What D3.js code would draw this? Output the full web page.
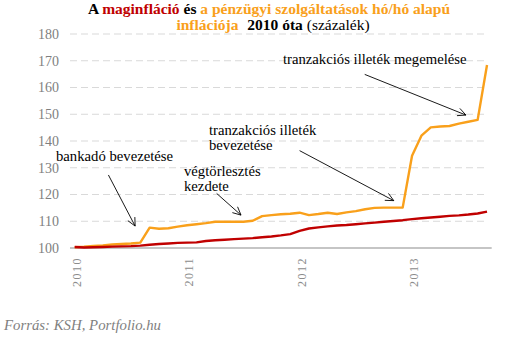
<!DOCTYPE html>
<html>
<head>
<meta charset="utf-8">
<script src="https://cdn.jsdelivr.net/npm/d3@7"></script>
<style>
  html, body { margin: 0; padding: 0; background: #fff; }
  svg { display: block; }
  text { font-family: "Liberation Serif", "DejaVu Serif", serif; }
</style>
</head>
<body>
<svg id="chart" width="530" height="341"></svg>
<script>
// Monthly index values, January 2010 = 100
const months = d3.range(45).map(i => new Date(2010, i, 1));

const coreInflation = [
  100.4, 100.2, 100.3, 100.4, 100.5, 100.6, 100.7, 100.9, 101.2, 101.5, 101.7, 101.9,
  102.0, 102.1, 102.6, 102.9, 103.1, 103.3, 103.5, 103.7, 104.0, 104.3, 104.7, 105.2,
  106.4, 107.3, 107.7, 108.1, 108.4, 108.6, 108.9, 109.2, 109.5, 109.8, 110.1, 110.4,
  110.8, 111.1, 111.4, 111.7, 112.0, 112.2, 112.5, 112.9, 113.6
];

const financialServices = [
  100.3, 100.5, 100.8, 101.0, 101.3, 101.5, 101.7, 102.0, 107.6, 107.2, 107.4, 108.0,
  108.5, 108.9, 109.3, 109.8, 109.8, 109.8, 109.8, 110.2, 111.9, 112.3, 112.6, 112.8,
  113.2, 112.3, 112.7, 113.2, 112.7, 113.3, 113.8, 114.5, 115.0, 115.1, 115.1, 115.1,
  134.5, 142.0, 145.1, 145.4, 145.6, 146.5, 147.2, 147.9, 168.4
];

const yTicks = [100, 110, 120, 130, 140, 150, 160, 170, 180];
const yearLabels = ["2010", "2011", "2012", "2013"];

// Event annotations: text lines, arrow tail and tip in (month index, value)
const annotations = [
  { lines: ["bankadó bevezetése"], tx: 56, ty: 161, tail: [3.6, 127.3], tip: [6.45, 108.2] },
  { lines: ["végtörlesztés", "kezdete"], tx: 184, ty: 176, tail: [15.15, 120.4], tip: [17.75, 112.3] },
  { lines: ["tranzakciós illeték", "bevezetése"], tx: 209, ty: 135, tail: [24.0, 136.4], tip: [34.05, 117.7] },
  { lines: ["tranzakciós illeték megemelése"], tx: 283, ty: 64, tail: [30.95, 164.9], tip: [41.75, 149.7] }
];

const svg = d3.select("#chart");
const plotLeft = 70, plotRight = 491.7, plotTop = 34, plotBottom = 248;

const x = d3.scaleBand().domain(d3.range(months.length)).range([plotLeft, plotRight]);
const xc = i => x(0) + x.bandwidth() * (i + 0.5);
const y = d3.scaleLinear().domain([100, 180]).range([plotBottom, plotTop]);

// Title
const title = svg.append("text").attr("text-anchor", "middle")
  .style("font-size", "15.5px").style("font-weight", "bold");
const t1 = title.append("tspan").attr("x", 269).attr("y", 14);
t1.append("tspan").attr("fill", "#000").text("A ");
t1.append("tspan").attr("fill", "#c00000").text("maginfláció ");
t1.append("tspan").attr("fill", "#000").text("és ");
t1.append("tspan").attr("fill", "#f9a01b").text("a pénzügyi szolgáltatások hó/hó alapú");
const t2 = title.append("tspan").attr("x", 273).attr("y", 29.5);
t2.append("tspan").attr("fill", "#f9a01b").text("inflációja ");
t2.append("tspan").attr("fill", "#000").attr("dx", 5).text("2010 óta ");
t2.append("tspan").attr("fill", "#000").style("font-weight", "normal").text("(százalék)");

// Horizontal dashed gridlines
svg.append("g").selectAll("line").data(yTicks.filter(v => v > 100)).join("line")
  .attr("x1", plotLeft).attr("x2", plotRight - 6)
  .attr("y1", d => y(d)).attr("y2", d => y(d))
  .attr("stroke", "#d9d9d9").attr("stroke-width", 1)
  .attr("stroke-dasharray", "7,4");

// Y axis labels
const yAxis = svg.append("g").attr("transform", `translate(${plotLeft},0)`)
  .call(d3.axisLeft(y).tickValues(yTicks).tickSize(0).tickPadding(11));
yAxis.select(".domain").remove();
yAxis.selectAll("text")
  .style("font-family", "'Liberation Serif', serif")
  .style("font-size", "14px").attr("fill", "#7f7f7f");

// X axis baseline and year labels
svg.append("line").attr("x1", plotLeft).attr("x2", plotRight)
  .attr("y1", y(100)).attr("y2", y(100))
  .attr("stroke", "#8c8c8c").attr("stroke-width", 1.2);

const xAxis = svg.append("g").attr("transform", `translate(0,${plotBottom})`)
  .call(d3.axisBottom(x)
    .tickValues(yearLabels.map((_, k) => k * 12))
    .tickFormat((d, k) => yearLabels[k])
    .tickSize(0));
xAxis.select(".domain").remove();
xAxis.selectAll("text")
  .attr("transform", "rotate(-90)")
  .attr("text-anchor", "end")
  .attr("x", -9).attr("y", 2).attr("dy", "0.35em")
  .style("font-family", "'Liberation Serif', serif")
  .style("font-size", "12px").style("letter-spacing", "1.5px")
  .attr("fill", "#8c8c8c");

// Series lines
const line = d3.line().x((d, i) => xc(i)).y(d => y(d));
svg.append("path").datum(financialServices).attr("d", line)
  .attr("fill", "none").attr("stroke", "#f9a01b").attr("stroke-width", 2.4)
  .attr("stroke-linejoin", "round");
svg.append("path").datum(coreInflation).attr("d", line)
  .attr("fill", "none").attr("stroke", "#c00000").attr("stroke-width", 2.4)
  .attr("stroke-linejoin", "round");

// Annotations with open arrowheads
const ann = svg.append("g");
annotations.forEach(a => {
  const txt = ann.append("text").attr("fill", "#000").style("font-size", "14.7px");
  a.lines.forEach((l, k) => txt.append("tspan").attr("x", a.tx).attr("y", a.ty + k * 14.5).text(l));
  const x1 = xc(a.tail[0]), y1 = y(a.tail[1]);
  const x2 = xc(a.tip[0]), y2 = y(a.tip[1]);
  ann.append("line").attr("x1", x1).attr("y1", y1).attr("x2", x2).attr("y2", y2)
    .attr("stroke", "#000").attr("stroke-width", 0.9);
  const ang = Math.atan2(y2 - y1, x2 - x1), len = 9, spread = 0.45;
  const p = s => [x2 - len * Math.cos(ang + s), y2 - len * Math.sin(ang + s)];
  ann.append("path")
    .attr("d", `M${p(spread)}L${x2},${y2}L${p(-spread)}`)
    .attr("fill", "none").attr("stroke", "#000").attr("stroke-width", 0.9);
});

// Source
svg.append("text").attr("x", 4).attr("y", 330)
  .style("font-size", "14.8px").style("font-style", "italic")
  .attr("fill", "#7f7f7f").text("Forrás: KSH, Portfolio.hu");
</script>
</body>
</html>
